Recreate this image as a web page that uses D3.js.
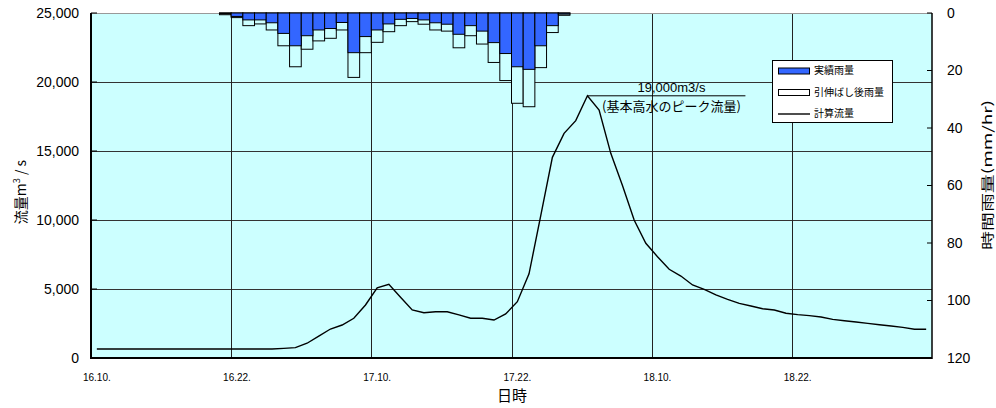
<!DOCTYPE html>
<html><head><meta charset="utf-8">
<script src="https://cdn.jsdelivr.net/npm/d3@7/dist/d3.min.js"></script>
<style>html,body{margin:0;padding:0;background:#fff;}svg{display:block;}</style>
</head><body>
<svg id="chart" width="996" height="408"></svg>
<script>
// ---- data ----
const days = [16, 17, 18, 19];
const startHour = 10;           // first category = 16.10
const nCategories = 72;         // hourly categories
const tickLabels = ["16.10.", "16.22.", "17.10.", "17.22.", "18.10.", "18.22."];
const flowValues = [
  650,650,650,650,650,650,650,650,650,650,650,650,650,650,650,650,
  700,750,1070,1590,2100,2390,2880,3840,5090,5340,4400,3480,3280,3350,
  3350,3120,2880,2880,2750,3190,4080,6100,10300,14540,16280,17200,19000,17970,
  14830,12500,10000,8310,7340,6430,5940,5290,4980,4570,4250,3960,3770,3570,
  3480,3240,3140,3070,2970,2800,2700,2610,2510,2410,2320,2220,2080,2080
];
const rainStartIndex = 11;      // 16.21
const rainActual = [0.3,1.2,2.4,2.4,3.4,7.1,11.4,7.9,5.9,5.4,3.3,13.8,8.2,5.9,3.8,2.2,1.9,2.4,3.4,3.9,7.4,4.4,6.3,10.3,14.1,18.7,19.6,11.4,4.4,0.4];
const rainStretched = [0.6,1.6,4.4,3.8,5.9,11.4,18.7,12.6,9.7,8.8,5.9,22.4,13.8,10.2,6.5,4.4,3.0,3.9,5.9,6.3,12.1,7.9,10.8,17.2,23.5,31.4,32.6,19.0,6.8,0.8];
const flowTicks = [0, 5000, 10000, 15000, 20000, 25000];
const rainTicks = [0, 20, 40, 60, 80, 100, 120];
const peakValue = 19000;
const legendLabels = ["実績雨量", "引伸ばし後雨量", "計算流量"];

// categories (day.hour) built from day list
const categories = [];
for (let i = 0; i < nCategories; i++) {
  const h = startHour + i;
  categories.push(days[Math.floor(h / 24)] + "." + (h % 24) + ".");
}

// ---- layout ----
const L = 91, R = 932, T = 13, B = 358;
const svg = d3.select("#chart");
const latin = "'Liberation Sans', Arial, sans-serif";
const cjk = "'Noto Sans CJK JP', 'Liberation Sans', sans-serif";

const x = d3.scaleBand().domain(d3.range(nCategories)).range([L, R]).padding(0);
const bw = x.bandwidth();
const cx = i => x(i) + bw / 2;
const yF = d3.scaleLinear().domain([0, 25000]).range([B, T]);
const yR = d3.scaleLinear().domain([0, 120]).range([T, B]);

// plot background
svg.append("rect").attr("x", L).attr("y", T).attr("width", R - L).attr("height", B - T).attr("fill", "#ccffff");

// gridlines
svg.append("g").selectAll("line").data(flowTicks.filter(d => d > 0 && d < 25000)).join("line")
  .attr("x1", L).attr("x2", R).attr("y1", d => Math.round(yF(d)) + 0.5).attr("y2", d => Math.round(yF(d)) + 0.5)
  .attr("stroke", "#333").attr("stroke-width", 1);
const tickIdx = tickLabels.map(t => categories.indexOf(t));
svg.append("g").selectAll("line").data(tickIdx.filter(i => i > 0)).join("line")
  .attr("x1", i => Math.round(x(i)) + 0.5).attr("x2", i => Math.round(x(i)) + 0.5).attr("y1", T).attr("y2", B)
  .attr("stroke", "#222").attr("stroke-width", 1);
// top border
svg.append("line").attr("x1", L).attr("x2", R).attr("y1", T + 0.5).attr("y2", T + 0.5).attr("stroke", "#999");

// rain bars
const rainData = rainActual.map((a, k) => ({ i: rainStartIndex + k, a: a, s: rainStretched[k] }));
svg.append("g").selectAll("rect").data(rainData).join("rect")
  .attr("x", d => x(d.i)).attr("y", yR(0)).attr("width", bw).attr("height", d => yR(d.s) - yR(0))
  .attr("fill", "#ccffff").attr("stroke", "#000").attr("stroke-width", 1);
svg.append("g").selectAll("rect").data(rainData).join("rect")
  .attr("x", d => x(d.i)).attr("y", yR(0)).attr("width", bw).attr("height", d => yR(d.a) - yR(0))
  .attr("fill", "#3366ff").attr("stroke", "#000").attr("stroke-width", 1);

// flow line
const line = d3.line().x((d, i) => cx(i)).y(d => yF(d));
svg.append("path").datum(flowValues).attr("d", line).attr("fill", "none").attr("stroke", "#000").attr("stroke-width", 1.4);

// axes lines
svg.append("line").attr("x1", L).attr("x2", L).attr("y1", T).attr("y2", B + 1).attr("stroke", "#000").attr("stroke-width", 2);
svg.append("line").attr("x1", L).attr("x2", R).attr("y1", B).attr("y2", B).attr("stroke", "#000").attr("stroke-width", 2);
svg.append("line").attr("x1", R).attr("x2", R).attr("y1", T).attr("y2", B + 1).attr("stroke", "#000").attr("stroke-width", 1.5);

// left ticks + labels
const fmt = d3.format(",");
svg.append("g").selectAll("line").data(flowTicks).join("line")
  .attr("x1", L).attr("x2", L + 6).attr("y1", d => yF(d)).attr("y2", d => yF(d)).attr("stroke", "#000");
svg.append("g").selectAll("text").data(flowTicks).join("text")
  .attr("x", 79).attr("y", d => yF(d) + 1).attr("text-anchor", "end").attr("dominant-baseline", "middle")
  .attr("font-family", latin).attr("font-size", 14).attr("fill", "#000").text(d => fmt(d));

// right ticks + labels
svg.append("g").selectAll("line").data(rainTicks).join("line")
  .attr("x1", R - 5).attr("x2", R).attr("y1", d => yR(d)).attr("y2", d => yR(d)).attr("stroke", "#000");
svg.append("g").selectAll("text").data(rainTicks).join("text")
  .attr("x", 947).attr("y", d => yR(d) + 1).attr("text-anchor", "start").attr("dominant-baseline", "middle")
  .attr("font-family", latin).attr("font-size", 14).attr("fill", "#000").text(d => d);

// x tick labels
svg.append("g").selectAll("text").data(tickIdx).join("text")
  .attr("x", i => cx(i)).attr("y", 381).attr("text-anchor", "middle")
  .attr("font-family", latin).attr("font-size", 10).attr("fill", "#000").text((i, k) => tickLabels[k]);

// axis titles
svg.append("text").attr("x", 512).attr("y", 401).attr("text-anchor", "middle")
  .attr("font-family", cjk).attr("font-size", 15).attr("fill", "#000").text("日時");
const lt = svg.append("text").attr("transform", "translate(26,192) rotate(-90)").attr("text-anchor", "middle")
  .attr("font-family", cjk).attr("font-size", 14).attr("fill", "#000");
lt.append("tspan").text("流量m");
lt.append("tspan").attr("font-size", 9).attr("dy", -6).text("3");
lt.append("tspan").attr("dy", 6).text(" / s");
svg.append("text").attr("transform", "translate(992,175) rotate(-90)").attr("text-anchor", "middle")
  .attr("font-family", cjk).attr("font-size", 13).attr("fill", "#000")
  .attr("textLength", 150).attr("lengthAdjust", "spacingAndGlyphs").text("時間雨量(mm/hr)");

// annotation
const peakIdx = flowValues.indexOf(peakValue);
const px = cx(peakIdx), py = yF(peakValue);
svg.append("line").attr("x1", px).attr("x2", px + 158).attr("y1", py).attr("y2", py).attr("stroke", "#000").attr("stroke-width", 1);
svg.append("text").attr("x", px + 84).attr("y", py - 4).attr("text-anchor", "middle")
  .attr("font-family", latin).attr("font-size", 13).attr("fill", "#000").text(fmt(peakValue) + "m3/s");
svg.append("text").attr("x", px + 84).attr("y", py + 15).attr("text-anchor", "middle")
  .attr("font-family", cjk).attr("font-size", 13).attr("fill", "#000").text("(基本高水のピーク流量)");

// legend
const lg = svg.append("g");
lg.append("rect").attr("x", 772.5).attr("y", 60.5).attr("width", 120).attr("height", 62).attr("fill", "#fff").attr("stroke", "#000");
const rows = [71, 92.5, 114];
lg.append("rect").attr("x", 778.5).attr("y", rows[0] - 3).attr("width", 31).attr("height", 6).attr("fill", "#3366ff").attr("stroke", "#000");
lg.append("rect").attr("x", 778.5).attr("y", rows[1] - 3).attr("width", 31).attr("height", 6).attr("fill", "#fff").attr("stroke", "#000");
lg.append("line").attr("x1", 778).attr("x2", 810).attr("y1", rows[2]).attr("y2", rows[2]).attr("stroke", "#000").attr("stroke-width", 1.4);
lg.selectAll("text").data(legendLabels).join("text")
  .attr("x", 814).attr("y", (d, k) => rows[k] + 0.5).attr("dominant-baseline", "middle")
  .attr("font-family", cjk).attr("font-size", 10).attr("fill", "#000").text(d => d);
</script>
</body></html>
